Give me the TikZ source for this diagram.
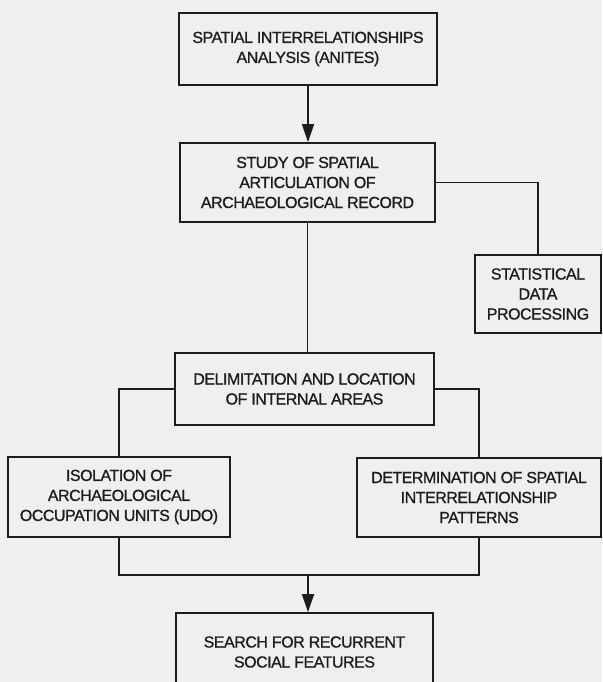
\documentclass[tikz,border=0pt]{standalone}
\usepackage{fontspec}
\setmainfont[LetterSpace=-3.0,FakeBold=0.9]{Liberation Sans}
\usetikzlibrary{arrows.meta}
\definecolor{bg}{RGB}{239,239,239}
\definecolor{ink}{RGB}{28,28,28}
\begin{document}
\begin{tikzpicture}[x=1pt,y=-1pt,
  txt/.style={align=center, inner sep=0pt, font=\fontsize{16}{20}\selectfont, text=ink},
  box/.style={txt, draw=ink, line width=1.8pt, fill=bg},
  conn/.style={draw=ink, line width=1.7pt},
  arr/.style={conn, -{Triangle[length=18pt,width=12pt]}}]
\fill[bg] (0,0) rectangle (602,682);
\clip (0,0) rectangle (602,682);
\node[box, minimum width=258pt, minimum height=72pt] (b1) at (308,49)
  {SPATIAL INTERRELATIONSHIPS\\ANALYSIS (ANITES)};
\node[box, minimum width=255pt, minimum height=79pt] (b2) at (307.5,182.5)
  {STUDY OF SPATIAL\\ARTICULATION OF\\ARCHAEOLOGICAL RECORD};
\node[box, minimum width=126pt, minimum height=78pt] (st) at (538,294)
  {STATISTICAL\\DATA\\PROCESSING};
\node[box, minimum width=259pt, minimum height=72pt] (b3) at (304.5,389)
  {DELIMITATION AND LOCATION\\OF INTERNAL AREAS};
\node[box, minimum width=222pt, minimum height=80pt] (b4) at (119,497)
  {ISOLATION OF\\ARCHAEOLOGICAL\\OCCUPATION UNITS (UDO)};
\node[box, minimum width=244pt, minimum height=79pt] (b5) at (479,497.5)
  {DETERMINATION OF SPATIAL\\INTERRELATIONSHIP\\PATTERNS};
\node[box, minimum width=257pt, minimum height=90pt] (b6) at (304.5,658) {};
\node[txt] (b6t) at (304.5,652) {SEARCH FOR RECURRENT\\SOCIAL FEATURES};
\coordinate (j) at (308,575);
\draw[arr] (b1.south) -- (b1.south |- b2.north);
\draw[conn] (b2.east) -| (st.north);
\draw[conn] (b2.south) -- (b2.south |- b3.north);
\draw[conn] (b3.west) -| (b4.north);
\draw[conn] (b3.east) -| (b5.north);
\draw[conn] (b4.south) |- (j) -| (b5.south);
\draw[arr] (j) -- (j |- b6.north);
\end{tikzpicture}
\end{document}
